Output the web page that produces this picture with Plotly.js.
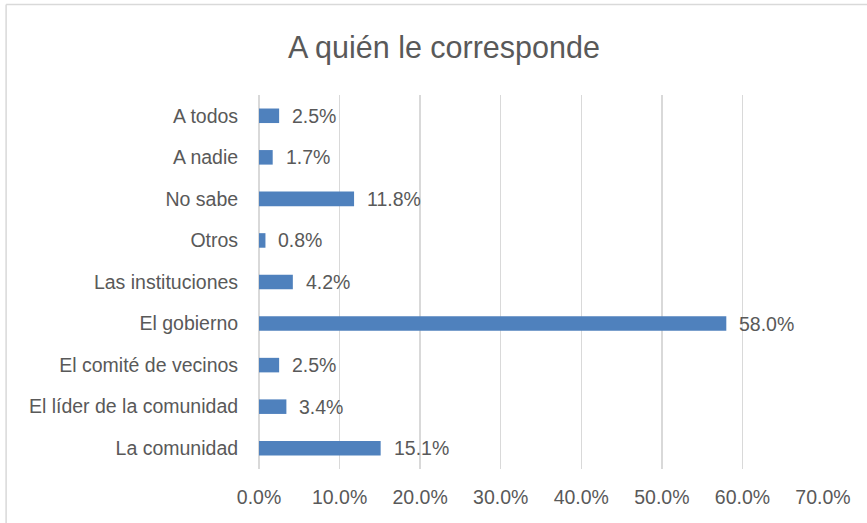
<!DOCTYPE html>
<html>
<head>
<meta charset="utf-8">
<script src="https://cdn.plot.ly/plotly-3.0.1.min.js"></script>
<style>
html,body{margin:0;padding:0;background:#fff;}
#chart{width:867px;height:523px;}
</style>
</head>
<body>
<div id="chart"></div>
<script>
const categories = ["A todos", "A nadie", "No sabe", "Otros", "Las instituciones", "El gobierno", "El comité de vecinos", "El líder de la comunidad", "La comunidad"];
const values = [2.5, 1.7, 11.8, 0.8, 4.2, 58.0, 2.5, 3.4, 15.1];
const tickValues = [0, 10, 20, 30, 40, 50, 60, 70];
const tickLabels = ["0.0%", "10.0%", "20.0%", "30.0%", "40.0%", "50.0%", "60.0%", "70.0%"];

const FONT = "'Liberation Sans', Arial, sans-serif";
const TXT = "#595959";

const trace = {
  type: "bar",
  orientation: "h",
  y: categories,
  x: values,
  marker: {color: "#4F81BD", line: {width: 0}},
  hoverinfo: "none"
};

const annotations = categories.map((c, i) => ({
  x: values[i], y: c, xref: "x", yref: "y",
  text: values[i].toFixed(1) + "%",
  showarrow: false, xanchor: "left", yanchor: "middle",
  xshift: 11,
  font: {family: FONT, size: 19.5, color: TXT}
}));

const layout = {
  width: 867, height: 523,
  margin: {l: 258.5, r: 44.3, t: 95, b: 54, pad: 0},
  paper_bgcolor: "#ffffff",
  plot_bgcolor: "#ffffff",
  showlegend: false,
  bargap: 0.65,
  title: {
    text: "A quién le corresponde",
    font: {family: FONT, size: 30.5, color: TXT},
    x: 0.512, xanchor: "center", xref: "container",
    y: 0.91, yanchor: "middle", yref: "container"
  },
  xaxis: {
    range: [0, 70],
    tickvals: tickValues,
    ticktext: tickLabels,
    showgrid: true, gridcolor: "#D9D9D9", gridwidth: 1.5,
    zeroline: true, zerolinecolor: "#D9D9D9", zerolinewidth: 1.5,
    showline: false,
    ticks: "outside", ticklen: 11, tickcolor: "rgba(0,0,0,0)",
    tickfont: {family: FONT, size: 19.5, color: TXT},
    fixedrange: true
  },
  yaxis: {
    autorange: "reversed",
    type: "category",
    showgrid: false, zeroline: false, showline: false,
    ticks: "outside", ticklen: 16, tickcolor: "rgba(0,0,0,0)",
    tickfont: {family: FONT, size: 19.5, color: TXT},
    fixedrange: true
  },
  annotations: annotations,
  shapes: [
    {type: "line", xref: "paper", yref: "paper", x0: -0.4484, x1: 2, y0: 1.2419, y1: 1.2419, line: {color: "#D9D9D9", width: 1.5}},
    {type: "line", xref: "paper", yref: "paper", x0: -0.4484, x1: -0.4484, y0: -1, y1: 1.2419, line: {color: "#D9D9D9", width: 1.5}}
  ]
};

Plotly.newPlot("chart", [trace], layout, {staticPlot: true, displayModeBar: false});
</script>
</body>
</html>
